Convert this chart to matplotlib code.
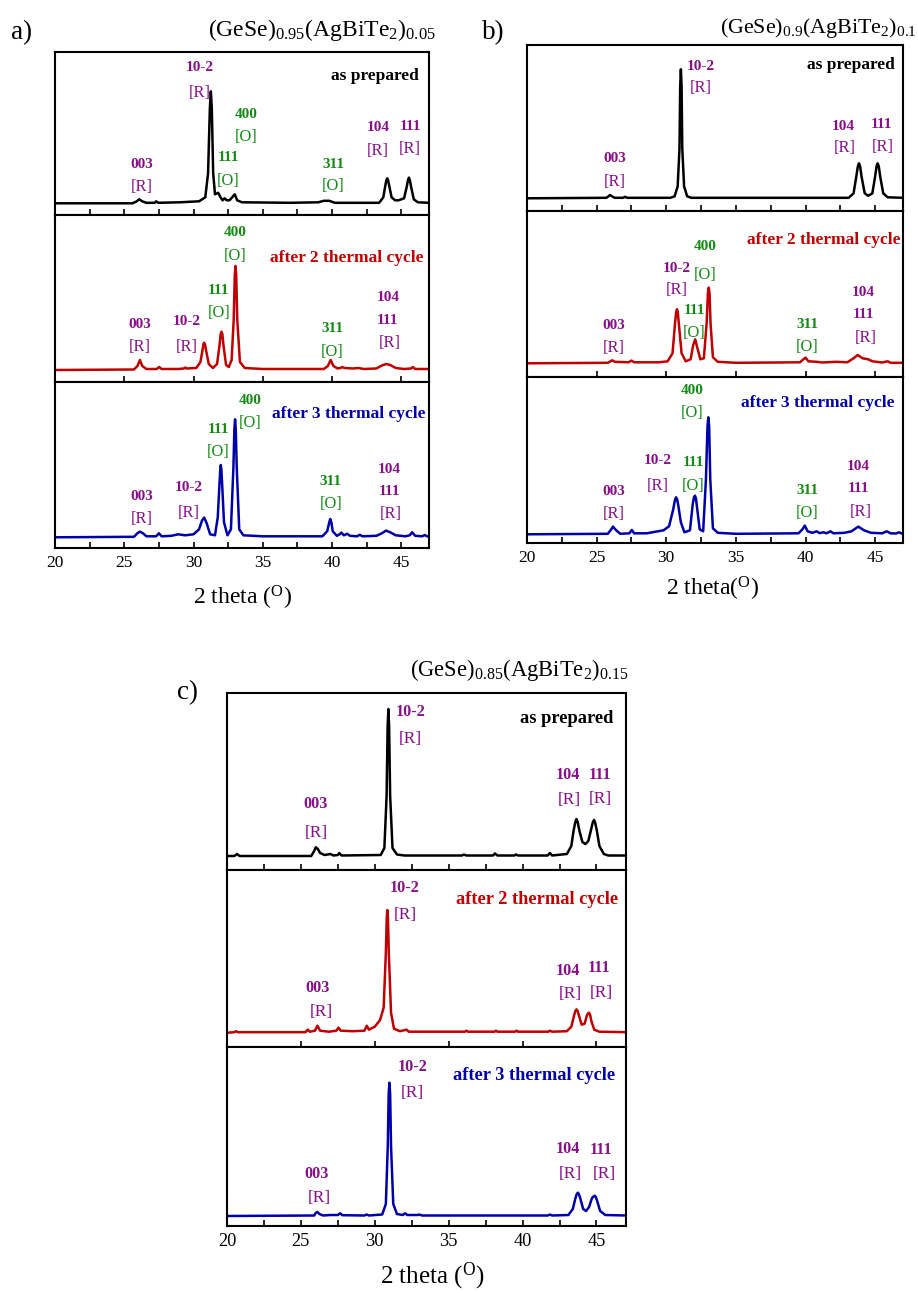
import matplotlib
matplotlib.use("Agg")
import matplotlib.pyplot as plt
import numpy as np
from matplotlib.ticker import MultipleLocator

plt.rcParams['font.family'] = ['Liberation Serif', 'DejaVu Serif']
plt.rcParams['mathtext.fontset'] = 'custom'
plt.rcParams['mathtext.rm'] = 'Liberation Serif'
plt.rcParams['mathtext.it'] = 'Liberation Serif:italic'
plt.rcParams['mathtext.bf'] = 'Liberation Serif:bold'

##### data : (2 theta, intensity a.u.) #####
# a) (GeSe)0.95(AgBiTe2)0.05
a_prep = [(20, 0), (25.6, 0), (25.9, 2), (26.08, 4), (26.3, 2), (26.6, 0.5), (27.2, 0.5), (27.3, 2),
          (27.45, 0.5), (29, 1), (30.4, 2), (30.85, 6), (31.05, 30), (31.18, 95), (31.25, 112),
          (31.32, 95), (31.42, 30), (31.55, 9), (31.78, 10.5), (31.95, 6), (32.1, 3), (32.25, 5),
          (32.4, 3), (32.6, 3), (32.85, 7), (32.98, 9), (33.15, 3), (33.5, 1), (37, 0.5), (39.0, 1),
          (39.4, 2.5), (39.8, 2.5), (40.2, 0.5), (43.4, 0.5), (43.7, 6), (43.85, 18), (43.92, 23),
          (43.98, 25), (44.05, 23), (44.12, 18), (44.3, 6), (44.55, 3), (44.8, 3), (45.2, 5),
          (45.4, 17), (45.48, 23), (45.55, 25.7), (45.62, 23), (45.7, 17), (45.9, 4), (46.2, 1),
          (47, 0.5)]
a_cyc2 = [(20, 0), (25.7, 0.5), (25.95, 4), (26.13, 10), (26.3, 4), (26.6, 1), (27.35, 1), (27.52, 3),
          (27.7, 1), (28.9, 1), (29.3, 1.5), (29.4, 2.5), (29.5, 1.5), (30.2, 2), (30.5, 8),
          (30.65, 20), (30.72, 26), (30.77, 27.3), (30.84, 25), (30.9, 20), (31.1, 6), (31.4, 2),
          (31.7, 6), (31.88, 25), (31.96, 36), (32.02, 38.3), (32.08, 36), (32.16, 25), (32.35, 5),
          (32.55, 3), (32.75, 10), (32.9, 50), (32.98, 95), (33.03, 104), (33.08, 95), (33.16, 50),
          (33.35, 8), (33.7, 2), (35, 1), (39.4, 1), (39.7, 4), (39.9, 10), (40.1, 4), (40.4, 1.5),
          (40.6, 2), (40.74, 3), (40.9, 2), (41.5, 1.5), (41.9, 2), (42.3, 1), (43.2, 1.5),
          (43.6, 4.5), (43.9, 6), (44.2, 5), (44.6, 2), (45.2, 1), (45.7, 1.5), (45.83, 3), (46.0, 1),
          (46.6, 1), (47, 1)]
a_cyc3 = [(20, 0), (25.7, 0.5), (25.95, 4), (26.13, 5.7), (26.35, 4), (26.6, 1), (27.3, 1), (27.5, 4),
          (27.7, 1), (28.4, 1.5), (28.9, 3), (29.4, 2), (30.0, 3), (30.4, 8), (30.62, 17),
          (30.77, 19.7), (30.95, 14), (31.2, 3), (31.55, 2), (31.75, 20), (31.88, 55), (31.93, 68),
          (31.97, 72.3), (32.01, 68), (32.06, 55), (32.2, 15), (32.45, 2), (32.7, 8), (32.88, 70),
          (32.95, 108), (33.0, 118), (33.05, 108), (33.12, 70), (33.3, 8), (33.6, 2), (35, 1),
          (39.3, 1), (39.65, 6), (39.8, 15), (39.87, 18.3), (39.95, 15), (40.05, 6), (40.35, 1.5),
          (40.55, 3), (40.67, 4.7), (40.85, 2), (41.1, 3.5), (41.3, 1.5), (41.8, 1), (42.0, 2.5),
          (42.2, 1), (43.2, 1.5), (43.6, 4), (43.9, 6.7), (44.2, 5), (44.6, 2), (45.3, 1), (45.6, 2),
          (45.79, 5), (46.0, 1.5), (46.5, 1), (46.7, 2.3), (46.85, 1), (47, 1)]

# b) (GeSe)0.9(AgBiTe2)0.1
b_prep = [(20, 0), (25.7, 0.5), (25.85, 2), (25.96, 3.3), (26.1, 2), (26.3, 0.5), (26.9, 0.5),
          (27.04, 1.5), (27.2, 0.5), (30.3, 0.5), (30.6, 2), (30.82, 12), (30.95, 50), (31.0, 112),
          (31.05, 129), (31.1, 112), (31.15, 50), (31.28, 12), (31.5, 2), (31.8, 0.5), (43.1, 0.5),
          (43.45, 5), (43.65, 22), (43.76, 32), (43.84, 35), (43.92, 32), (44.02, 22), (44.25, 5),
          (44.5, 2.5), (44.8, 5), (45.0, 22), (45.1, 32), (45.18, 35), (45.26, 32), (45.36, 22),
          (45.58, 5), (45.9, 1), (47, 0.5)]
b_cyc2 = [(20, 0), (25.8, 0.5), (26.0, 2), (26.13, 3), (26.3, 1.5), (27.3, 1), (27.5, 2.7), (27.7, 1),
          (29.5, 1), (30.1, 2), (30.45, 10), (30.63, 40), (30.71, 51), (30.77, 54), (30.83, 51),
          (30.9, 40), (31.1, 10), (31.4, 2), (31.75, 4), (31.93, 18), (32.08, 24), (32.22, 16),
          (32.45, 4), (32.7, 5), (32.9, 40), (32.99, 70), (33.05, 75.7), (33.11, 70), (33.18, 40),
          (33.35, 6), (33.7, 1.5), (35, 0.5), (39.6, 1), (39.85, 4), (40.0, 5.7), (40.2, 2), (40.8, 1.5),
          (41.2, 0.8), (42.2, 1.5), (43.0, 1), (43.45, 5), (43.74, 8.3), (44.1, 5), (44.5, 4),
          (44.8, 2), (45.5, 0.8), (45.9, 2), (46.1, 0.5), (47, 0.5)]
b_cyc3 = [(20, 0), (25.8, 0.5), (26.0, 4), (26.18, 7.7), (26.4, 4), (26.7, 0.5), (27.35, 1), (27.52, 4.3),
          (27.7, 1), (28.6, 1), (29.2, 2.5), (29.4, 3), (29.8, 4), (30.2, 8), (30.5, 25), (30.62, 34),
          (30.7, 37), (30.78, 35), (30.85, 30), (31.05, 12), (31.3, 2), (31.7, 4), (31.9, 30),
          (31.99, 37), (32.06, 38.7), (32.13, 36), (32.2, 28), (32.4, 5), (32.65, 3), (32.85, 55),
          (32.96, 108), (33.02, 117), (33.08, 108), (33.16, 55), (33.35, 6), (33.7, 1.5), (35, 0.5),
          (39.5, 1), (39.78, 5), (39.95, 8.7), (40.15, 3), (40.5, 1.5), (40.8, 3), (41.0, 1.2),
          (41.3, 2), (41.5, 1), (41.8, 3), (42.0, 1), (42.8, 1.5), (43.3, 3), (43.79, 7.7), (44.2, 4),
          (44.7, 1.5), (45.5, 1), (45.84, 3), (46.1, 1), (46.5, 0.8), (46.7, 2), (46.9, 0.8),
          (47, 0.5)]

# c) (GeSe)0.85(AgBiTe2)0.15
c_prep = [(20, 0), (20.5, 0), (20.68, 2), (20.85, 0), (25.7, 0), (25.9, 5), (26.01, 8.7), (26.15, 7),
          (26.3, 3), (26.6, 1), (27.0, 2), (27.2, 0.5), (27.5, 1), (27.6, 3), (27.75, 0.5), (30.4, 1),
          (30.65, 8), (30.8, 60), (30.87, 130), (30.92, 147), (30.97, 130), (31.04, 60), (31.2, 8),
          (31.5, 1.5), (32, 0.5), (35.9, 0.5), (36.03, 1.5), (36.2, 0.5), (38.0, 0.5), (38.13, 2.5),
          (38.3, 0.5), (39.45, 0.5), (39.55, 1.5), (39.7, 0.5), (41.7, 0.5), (41.85, 3), (42.0, 0.5),
          (43.0, 2), (43.3, 10), (43.45, 25), (43.57, 34), (43.65, 37), (43.73, 34), (43.85, 25),
          (44.05, 14), (44.25, 12), (44.45, 15), (44.63, 26), (44.76, 34), (44.84, 36), (44.92, 33),
          (45.02, 26), (45.2, 10), (45.5, 2), (45.8, 0.5), (47, 0.5)]
c_cyc2 = [(20, 0), (20.5, 0.5), (20.6, 1.5), (20.75, 0.5), (25.3, 0.5), (25.47, 3), (25.6, 1),
          (25.95, 2), (26.12, 7), (26.3, 2), (26.9, 1), (27.4, 2), (27.54, 5), (27.7, 2), (28.5, 1.5),
          (29.3, 2), (29.46, 7), (29.6, 3), (30.0, 6), (30.36, 12.7), (30.6, 25), (30.75, 80),
          (30.81, 115), (30.85, 122.7), (30.89, 115), (30.95, 80), (31.1, 20), (31.3, 4), (31.7, 1.5),
          (32.16, 3), (32.3, 1), (36.1, 1), (36.2, 2), (36.3, 1), (38.1, 1), (38.2, 2), (38.3, 1),
          (39.5, 1), (39.58, 2), (39.7, 1), (41.75, 1), (41.85, 2), (42.0, 1), (43.0, 1.5), (43.3, 6),
          (43.5, 18), (43.58, 22), (43.65, 23.3), (43.72, 22), (43.8, 18), (44.0, 8), (44.2, 9),
          (44.35, 17), (44.43, 19.5), (44.5, 20), (44.57, 18), (44.65, 12), (44.85, 3), (45.2, 1),
          (47, 0.5)]
c_cyc3 = [(20, 0), (25.9, 0.5), (26.0, 3), (26.12, 4), (26.25, 2), (26.5, 0.5), (27.0, 1), (27.5, 1),
          (27.66, 2.7), (27.8, 0.8), (29.3, 0.5), (29.45, 1.5), (29.6, 0.5), (30.5, 1.5), (30.75, 12),
          (30.88, 70), (30.94, 122), (30.99, 133.3), (31.04, 122), (31.1, 70), (31.25, 12), (31.5, 2),
          (31.9, 1), (32.05, 2.7), (32.2, 1), (32.9, 1), (33.0, 1.5), (33.2, 0.5), (41.7, 0.5),
          (41.85, 1.5), (42.0, 0.5), (43.1, 1), (43.4, 7), (43.58, 18), (43.67, 22), (43.74, 23.3),
          (43.81, 22), (43.9, 18), (44.1, 7), (44.3, 5), (44.5, 9), (44.7, 18), (44.8, 19.5),
          (44.88, 20.3), (44.96, 19), (45.05, 15), (45.25, 5), (45.6, 1), (47, 0.5)]

# peak labels: (2 theta, height, text, phase)  R = rhombohedral, O = orthorhombic
a_prep_lab = [(26.25, 39, '003', 'R'), (26.25, 16.7, '[R]', 'R'), (30.45, 135.7, '10-2', 'R'),
              (30.45, 110.7, '[R]', 'R'), (33.77, 89.3, '400', 'O'), (33.77, 66.7, '[O]', 'O'),
              (32.5, 46, '111', 'O'), (32.5, 22.7, '[O]', 'O'), (40.07, 39.3, '311', 'O'),
              (40.07, 17.3, '[O]', 'O'), (43.3, 75.7, '104', 'R'), (43.3, 52.7, '[R]', 'R'),
              (45.64, 76.7, '111', 'R'), (45.64, 54, '[R]', 'R')]
a_cyc2_lab = [(26.13, 45, '003', 'R'), (26.13, 22.7, '[R]', 'R'), (29.5, 48.3, '10-2', 'R'),
              (29.5, 23.3, '[R]', 'R'), (31.82, 80, '111', 'O'), (31.82, 56.7, '[O]', 'O'),
              (33.03, 137.7, '400', 'O'), (33.03, 114, '[O]', 'O'), (40.02, 41, '311', 'O'),
              (40.02, 17.7, '[O]', 'O'), (44.03, 72.3, '104', 'R'), (44.03, 50, '111', 'R'),
              (44.2, 26.7, '[R]', 'R')]
a_cyc3_lab = [(26.25, 41.3, '003', 'R'), (26.25, 18.7, '[R]', 'R'), (29.68, 50, '10-2', 'R'),
              (29.68, 24.7, '[R]', 'R'), (31.78, 108.3, '111', 'O'), (31.78, 85.7, '[O]', 'O'),
              (34.1, 136.7, '400', 'O'), (34.1, 114, '[O]', 'O'), (39.9, 56.3, '311', 'O'),
              (39.9, 33.3, '[O]', 'O'), (44.15, 68, '104', 'R'), (44.15, 45.7, '111', 'R'),
              (44.27, 23.3, '[R]', 'R')]
b_prep_lab = [(26.32, 39.3, '003', 'R'), (26.32, 16.7, '[R]', 'R'), (32.5, 132.3, '10-2', 'R'),
              (32.5, 110, '[R]', 'R'), (42.71, 72.3, '104', 'R'), (42.83, 50.7, '[R]', 'R'),
              (45.47, 74, '111', 'R'), (45.52, 51.7, '[R]', 'R')]
b_cyc2_lab = [(26.25, 37.7, '003', 'R'), (26.25, 15.7, '[R]', 'R'), (30.77, 95, '10-2', 'R'),
              (30.77, 73.3, '[R]', 'R'), (32.8, 116.7, '400', 'O'), (32.8, 88.3, '[O]', 'O'),
              (32.01, 52.3, '111', 'O'), (32.01, 30, '[O]', 'O'), (40.11, 39, '311', 'O'),
              (40.11, 16.7, '[O]', 'O'), (44.15, 70.7, '104', 'R'), (44.15, 48.3, '111', 'R'),
              (44.32, 25.7, '[R]', 'R')]
b_cyc3_lab = [(26.2, 42.7, '003', 'R'), (26.2, 20.3, '[R]', 'R'), (29.42, 73.3, '10-2', 'R'),
              (29.42, 48.3, '[R]', 'R'), (31.94, 71.7, '111', 'O'), (31.94, 48.7, '[O]', 'O'),
              (31.85, 144.3, '400', 'O'), (31.85, 121.7, '[O]', 'O'), (40.11, 44.3, '311', 'O'),
              (40.11, 21, '[O]', 'O'), (43.79, 68.3, '104', 'R'), (43.79, 46, '111', 'R'),
              (43.96, 22.7, '[R]', 'R')]
c_prep_lab = [(26.01, 52, '003', 'R'), (26.01, 23.3, '[R]', 'R'), (32.43, 144.3, '10-2', 'R'),
              (32.43, 116.7, '[R]', 'R'), (43.08, 81, '104', 'R'), (43.19, 56, '[R]', 'R'),
              (45.22, 81, '111', 'R'), (45.27, 56.7, '[R]', 'R')]
c_cyc2_lab = [(26.12, 45, '003', 'R'), (26.35, 21, '[R]', 'R'), (32.05, 144.3, '10-2', 'R'),
              (32.05, 117.7, '[R]', 'R'), (43.08, 61.7, '104', 'R'), (43.24, 38.3, '[R]', 'R'),
              (45.18, 64.3, '111', 'R'), (45.34, 40, '[R]', 'R')]
c_cyc3_lab = [(26.08, 42, '003', 'R'), (26.26, 18.3, '[R]', 'R'), (32.54, 149.3, '10-2', 'R'),
              (32.54, 122.7, '[R]', 'R'), (43.08, 66.7, '104', 'R'), (43.24, 42, '[R]', 'R'),
              (45.34, 66, '111', 'R'), (45.5, 41.7, '[R]', 'R')]

conditions = ['as prepared', 'after 2 thermal cycle', 'after 3 thermal cycle']
cond_pos = {'a': [(46.27, 127.3), (46.63, 112.3), (46.75, 123)],
            'b': [(46.43, 133.3), (46.8, 123.3), (46.39, 131)],
            'c': [(46.17, 137.7), (46.5, 133.3), (46.24, 140)]}
titles = {'a': r'$\mathregular{(GeSe)_{0.95}(AgBiTe_2)_{0.05}}$',
          'b': r'$\mathregular{(GeSe)_{0.9}(AgBiTe_2)_{0.1}}$',
          'c': r'$\mathregular{(GeSe)_{0.85}(AgBiTe_2)_{0.15}}$'}
xticks = [20, 25, 30, 35, 40, 45]

#### layout (pixels of the 918x1293 canvas) ####
W, H = 918, 1293
line_cols = ['black', '#c00000', '#0000a8']
phase_cols = {'R': '#870f87', 'O': '#138a13'}

panels = {
    'a': dict(x=(55, 429), rows=[(52, 215), (215, 382), (382, 548)],
              ylims=[(-11.7, 151.3), (-12, 155), (-10.7, 155.3)],
              data=[a_prep, a_cyc2, a_cyc3], labs=[a_prep_lab, a_cyc2_lab, a_cyc3_lab],
              title_xy=(322, 30), title_fs=17, letter_xy=(22, 33), xlab_xy=(242, 598),
              xlab=r'2 theta ($\mathregular{^O}$)', fs=1.0),
    'b': dict(x=(527, 903), rows=[(45, 211), (211, 377), (377, 543)],
              ylims=[(-12.7, 153.3), (-13.7, 152.3), (-8.7, 157.3)],
              data=[b_prep, b_cyc2, b_cyc3], labs=[b_prep_lab, b_cyc2_lab, b_cyc3_lab],
              title_xy=(818, 28), title_fs=15.8, letter_xy=(493, 33), xlab_xy=(713, 589),
              xlab=r'2 theta($\mathregular{^O}$)', fs=1.0),
    'c': dict(x=(227, 626), rows=[(693, 870), (870, 1047), (1047, 1226)],
              ylims=[(-14, 163), (-14.3, 162.7), (-10, 169)],
              data=[c_prep, c_cyc2, c_cyc3], labs=[c_prep_lab, c_cyc2_lab, c_cyc3_lab],
              title_xy=(519, 670), title_fs=16.3, letter_xy=(187, 693), xlab_xy=(432, 1276),
              xlab=r'2 theta ($\mathregular{^O}$)', fs=1.06),
}

fig = plt.figure(figsize=(W / 100, H / 100), dpi=100)

for key, p in panels.items():
    x0, x1 = p['x']
    fs = p['fs']
    for i, (top, bot) in enumerate(p['rows']):
        ax = fig.add_axes([x0 / W, 1 - bot / H, (x1 - x0) / W, (bot - top) / H])
        pts = np.array(p['data'][i]).T
        ax.plot(pts[0], pts[1], color=line_cols[i], lw=1.8, solid_joinstyle='round')
        ax.set_xlim(20, 47)
        ax.set_ylim(*p['ylims'][i])
        ax.set_yticks([])
        ax.xaxis.set_major_locator(MultipleLocator(5))
        if i != 1:
            ax.xaxis.set_minor_locator(MultipleLocator(2.5))
        ax.tick_params(axis='x', which='both', direction='in', length=4.5, width=1.2,
                       top=False, labelsize=12.5 * fs, pad=5)
        if i < 2:
            ax.tick_params(axis='x', labelbottom=False)
        else:
            ax.set_xticks(xticks)
        for s in ax.spines.values():
            s.set_linewidth(1.5)
        for (tx, ty, txt, ph) in p['labs'][i]:
            brk = txt.startswith('[')
            ax.text(tx, ty, txt, color=phase_cols[ph], ha='center', va='center',
                    fontsize=(11.8 if brk else 11) * fs, weight='normal' if brk else 'bold')
        cx, cy = cond_pos[key][i]
        ax.text(cx, cy, conditions[i], color=line_cols[i], ha='right', va='center',
                fontsize=12.5 * fs, weight='bold')
    fig.text(p['title_xy'][0] / W, 1 - p['title_xy'][1] / H, titles[key],
             ha='center', va='center', fontsize=p['title_fs'])
    fig.text(p['letter_xy'][0] / W, 1 - p['letter_xy'][1] / H, key + ')',
             ha='center', va='center', fontsize=19.5)
    fig.text(p['xlab_xy'][0] / W, 1 - p['xlab_xy'][1] / H, p['xlab'],
             ha='center', va='center', fontsize=17 * fs)

fig.savefig('out.png', dpi=100)
